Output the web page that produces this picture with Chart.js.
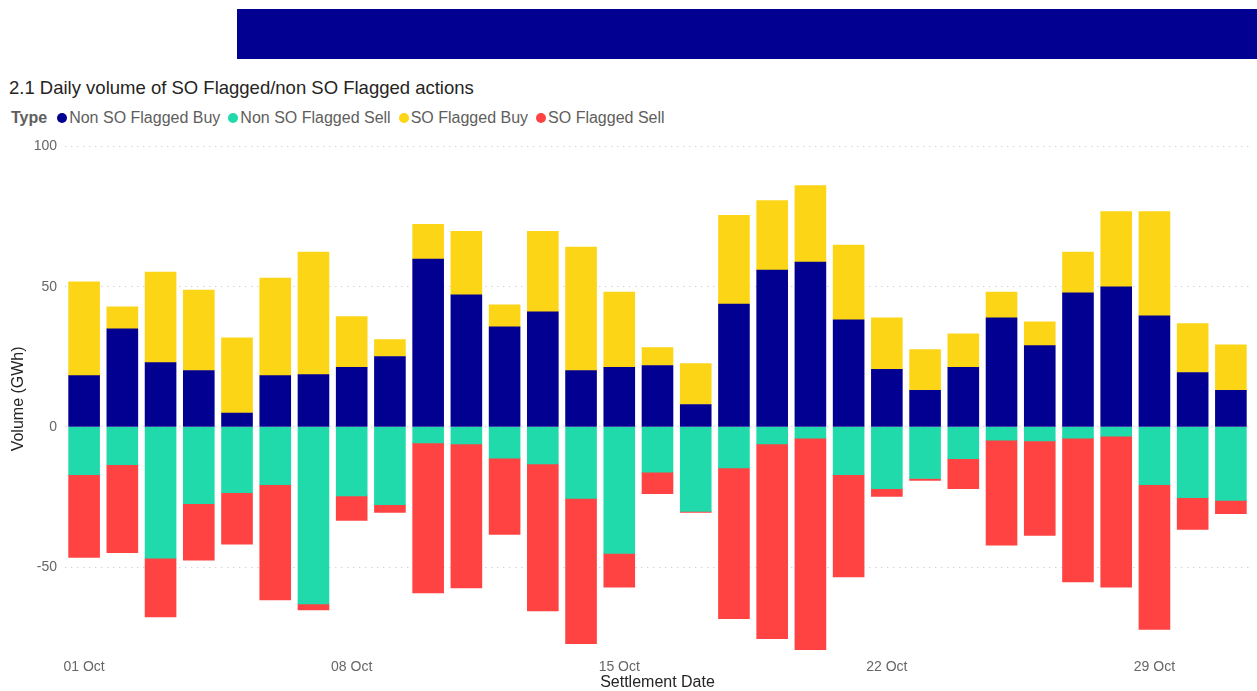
<!DOCTYPE html>
<html>
<head>
<meta charset="utf-8">
<script src="https://cdn.jsdelivr.net/npm/chart.js@4"></script>
<style>
  body { margin: 0; width: 1257px; height: 691px; background: #fff; overflow: hidden; position: relative;
         font-family: "Liberation Sans", Arial, sans-serif; }
  #band { position: absolute; left: 237px; top: 9px; width: 1020px; height: 50px; background: #020090; }
  #title { position: absolute; left: 9px; top: 77px; font-size: 18.5px; color: #252423; white-space: nowrap; }
  #legend { position: absolute; left: 11px; top: 109px; font-size: 16px; color: #605e5c; display: flex; align-items: center; white-space: nowrap; }
  #legend b { margin-right: 10px; }
  #legend .item { display: flex; align-items: center; margin-right: 8px; }
  #legend .dot { width: 10px; height: 10px; border-radius: 50%; margin-right: 2px; }
  #wrap { position: absolute; left: 0; top: 130px; width: 1257px; height: 561px; }
</style>
</head>
<body>
<div id="band"></div>
<div id="title">2.1 Daily volume of SO Flagged/non SO Flagged actions</div>
<div id="legend"><b>Type</b></div>
<div id="wrap"><canvas id="chart"></canvas></div>
<script>
const days = ["01 Oct", "02 Oct", "03 Oct", "04 Oct", "05 Oct", "06 Oct", "07 Oct", "08 Oct",
  "09 Oct", "10 Oct", "11 Oct", "12 Oct", "13 Oct", "14 Oct", "15 Oct", "16 Oct", "17 Oct",
  "18 Oct", "19 Oct", "20 Oct", "21 Oct", "22 Oct", "23 Oct", "24 Oct", "25 Oct", "26 Oct",
  "27 Oct", "28 Oct", "29 Oct", "30 Oct", "31 Oct"];

const nonSoBuy = [18.3, 35.0, 22.9, 20.1, 4.9, 18.3, 18.7, 21.2, 25.1, 59.8, 47.1, 35.7, 41.0, 20.1, 21.2,
  21.9, 8.0, 43.8, 55.9, 58.8, 38.2, 20.5, 13.0, 21.2, 38.9, 29.0, 47.8, 49.9, 39.6, 19.4, 13.0];
const nonSoSell = [-17.0, -13.5, -46.8, -27.4, -23.4, -20.6, -63.1, -24.6, -27.7, -5.7, -6.1, -11.1, -13.2, -25.5, -45.1,
  -16.1, -30.1, -14.6, -6.1, -4.0, -17.0, -22.0, -18.4, -11.3, -4.7, -5.0, -4.0, -3.3, -20.6, -25.2, -26.2];
const soBuy = [33.4, 7.8, 32.3, 28.7, 26.9, 34.8, 43.6, 18.1, 6.0, 12.4, 22.6, 7.8, 28.7, 44.0, 26.9,
  6.4, 14.6, 31.6, 24.8, 27.2, 26.6, 18.4, 14.6, 12.0, 9.2, 8.5, 14.5, 26.9, 37.2, 17.4, 16.3];
const soSell = [-29.5, -31.3, -20.9, -20.1, -18.4, -41.1, -2.1, -8.7, -2.8, -53.5, -51.3, -27.2, -52.4, -51.8, -12.0,
  -7.7, -0.4, -53.8, -69.4, -75.4, -36.5, -2.8, -0.7, -10.7, -37.5, -33.7, -51.3, -53.8, -51.6, -11.3, -4.7];

const series = [
  { label: "Non SO Flagged Buy", data: nonSoBuy, color: "#020090" },
  { label: "Non SO Flagged Sell", data: nonSoSell, color: "#21daab" },
  { label: "SO Flagged Buy", data: soBuy, color: "#fdd517" },
  { label: "SO Flagged Sell", data: soSell, color: "#ff4343" },
];

// html legend, same order as the datasets
const legend = document.getElementById("legend");
series.forEach((s) => {
  const item = document.createElement("span");
  item.className = "item";
  item.innerHTML = '<span class="dot" style="background:' + s.color + '"></span>' + s.label;
  legend.appendChild(item);
});

const ctx = document.getElementById("chart").getContext("2d");
new Chart(ctx, {
  type: "bar",
  data: {
    labels: days,
    datasets: series.map((s) => ({
      label: s.label,
      data: s.data,
      backgroundColor: s.color,
      borderWidth: 0,
      inflateAmount: 0.33,
      categoryPercentage: 0.81,
      barPercentage: 1,
    })),
  },
  options: {
    responsive: true,
    maintainAspectRatio: false,
    animation: false,
    // top/bottom chosen so the zero line falls on a whole pixel
    layout: { padding: { top: 14.33, right: 7, left: 0, bottom: 0 } },
    plugins: {
      legend: { display: false },
      tooltip: { enabled: false },
    },
    scales: {
      x: {
        stacked: true,
        grid: { display: false, drawTicks: false },
        border: { display: false },
        ticks: {
          autoSkip: false,
          maxRotation: 0,
          color: "#666",
          font: { family: "Liberation Sans", size: 14 },
          padding: 7,
          callback: function (value, index) {
            return index % 7 === 0 ? days[index] : null;
          },
        },
        title: {
          display: true,
          text: "Settlement Date",
          color: "#252423",
          font: { family: "Liberation Sans", size: 16, lineHeight: 1 },
          padding: { top: 0, bottom: 0 },
        },
        afterFit: (scale) => { scale.height = 39.67; },
      },
      y: {
        stacked: true,
        min: -80,
        max: 100,
        grid: {
          color: "#d6d6d6",
          drawTicks: false,
          lineWidth: 1,
        },
        border: { display: false, dash: [1.5, 4.5] },
        ticks: {
          stepSize: 50,
          includeBounds: false,
          color: "#666",
          font: { family: "Liberation Sans", size: 14 },
          padding: 8,
        },
        title: {
          display: true,
          text: "Volume (GWh)",
          color: "#252423",
          font: { family: "Liberation Sans", size: 16, lineHeight: 1 },
          padding: { top: 11, bottom: 0 },
        },
        afterFit: (scale) => { scale.width = 65; },
      },
    },
  },
});
</script>
</body>
</html>
